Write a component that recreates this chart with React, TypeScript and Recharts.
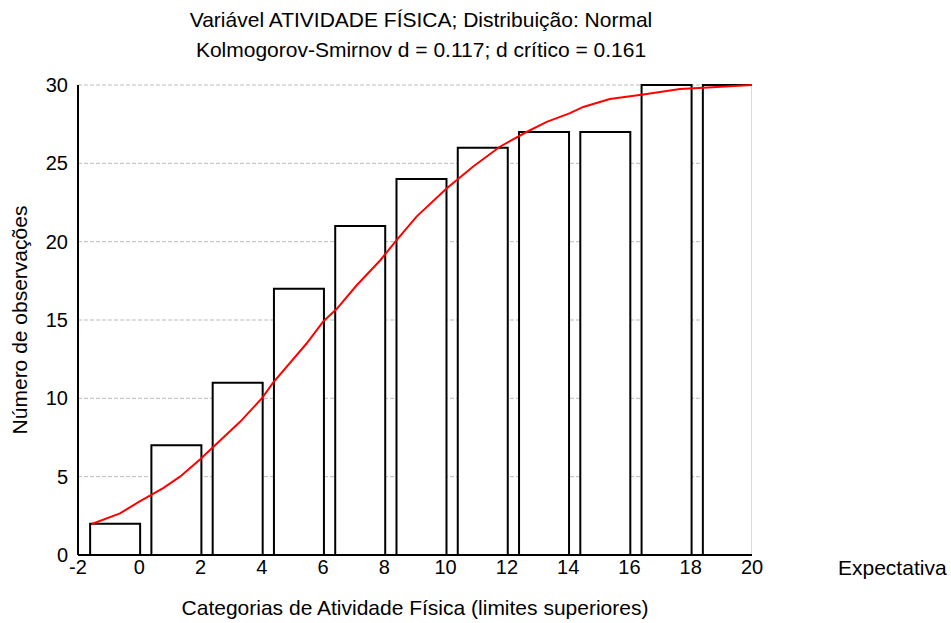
import React from "react"
import { Bar, CartesianGrid, ComposedChart, Line, XAxis, YAxis } from "recharts"

// upper limits of each category and observed cumulative counts
const upperLimits = [0, 2, 4, 6, 8, 10, 12, 14, 16, 18, 20]
const observed = [2, 7, 11, 17, 21, 24, 26, 27, 27, 30, 30]

// expected (normal) cumulative curve
const expX = [-1.55, -0.63, 0, 0.78, 1.33, 1.98, 2.36, 3.29, 4.0, 4.37, 5.46, 6.0, 6.44, 7.09, 7.86, 8.4, 9.05, 10.03, 10.9, 11.77, 12.64, 13.3, 14.06, 14.49, 15.36, 16.45, 17.65, 18.41, 20]
const expY = [1.98, 2.66, 3.4, 4.27, 5.0, 6.1, 6.8, 8.5, 10.0, 11.0, 13.5, 14.9, 15.7, 17.2, 18.8, 20.1, 21.6, 23.4, 24.8, 26.06, 27.0, 27.65, 28.2, 28.6, 29.1, 29.4, 29.74, 29.82, 30]

const xTicks = [-2, 0, 2, 4, 6, 8, 10, 12, 14, 16, 18, 20]
const yTicks = [0, 5, 10, 15, 20, 25, 30]

// bars sit toward the upper limit of each class
const BAR_SHIFT = 0.8

const barData = upperLimits.map((u, i) => ({ x: u - BAR_SHIFT, count: observed[i] }))
const lineData = expX.map((x, i) => ({ lx: x, expected: expY[i] }))

const font = "'Liberation Sans', Arial, sans-serif"

export default function App() {
  return (
    <div style={{ position: "absolute", left: 0, top: 0, width: 951, height: 623, background: "#fff", fontFamily: font }}>
      <div style={{ position: "absolute", left: 0, width: 842, top: 8, textAlign: "center", fontSize: 21, lineHeight: "24px", color: "#000" }}>
        Variável ATIVIDADE FÍSICA; Distribuição: Normal
      </div>
      <div style={{ position: "absolute", left: 0, width: 842, top: 38, textAlign: "center", fontSize: 21, lineHeight: "24px", color: "#000" }}>
        Kolmogorov-Smirnov d = 0.117; d crítico = 0.161
      </div>
      <div style={{ position: "absolute", left: 838, top: 556, fontSize: 21, lineHeight: "24px", color: "#000" }}>Expectativa</div>
      <ComposedChart
        width={951}
        height={623}
        data={barData}
        margin={{ top: 85, right: 199, bottom: 38, left: 28 }}
        style={{ fontFamily: font }}
      >
        <CartesianGrid horizontal vertical={false} stroke="#bdbdbd" strokeDasharray="4 2" xAxisId="line" />
        <XAxis
          xAxisId="line"
          dataKey="lx"
          type="number"
          domain={[-2, 20]}
          ticks={xTicks}
          allowDataOverflow
          tickLine={false}
          axisLine={{ stroke: "#000", strokeWidth: 2 }}
          tick={{ fill: "#000", fontSize: 20 }}
          tickSize={3}
          height={30}
          label={{ value: "Categorias de Atividade Física (limites superiores)", position: "insideBottom", offset: -30, fill: "#000", fontSize: 21 }}
        />
        <XAxis xAxisId="bars" dataKey="x" type="number" domain={[-2, 20]} allowDataOverflow hide height={0} />
        <YAxis
          type="number"
          domain={[0, 30]}
          ticks={yTicks}
          tickLine={false}
          axisLine={{ stroke: "#000", strokeWidth: 2 }}
          tick={{ fill: "#000", fontSize: 20 }}
          tickSize={8}
          width={50}
          label={{ value: "Número de observações", angle: -90, position: "insideLeft", offset: -8, fill: "#000", fontSize: 21, style: { textAnchor: "middle" } }}
        />
        <Bar xAxisId="bars" dataKey="count" barSize={50} fill="#fff" stroke="#000" strokeWidth={2} isAnimationActive={false} />
        <Line
          xAxisId="line"
          data={lineData}
          dataKey="expected"
          type="linear"
          stroke="#ff0000"
          strokeWidth={2}
          dot={false}
          isAnimationActive={false}
        />
      </ComposedChart>
    </div>
  )
}
